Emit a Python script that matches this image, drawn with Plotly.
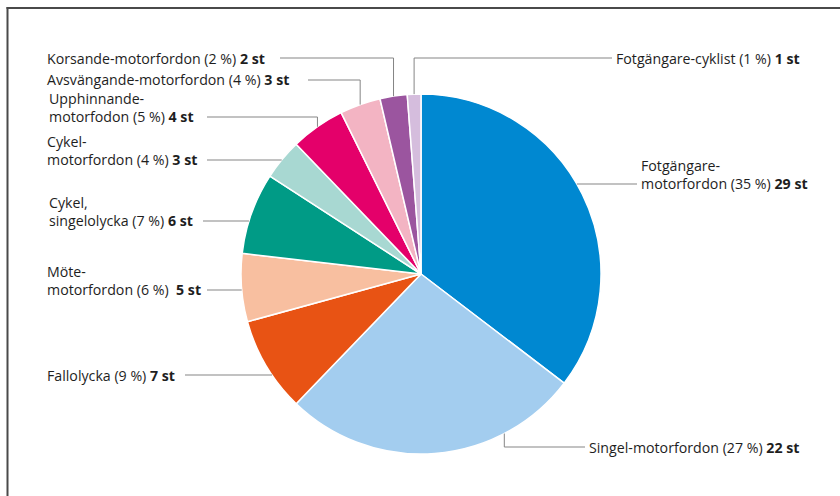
import math
import plotly.graph_objects as go

# ---- data ----
categories = [
    "Fotgängare-motorfordon", "Singel-motorfordon", "Fallolycka", "Möte-motorfordon",
    "Cykel, singelolycka", "Cykel-motorfordon", "Upphinnande-motorfodon",
    "Avsvängande-motorfordon", "Korsande-motorfordon", "Fotgängare-cyklist",
]
counts = [29, 22, 7, 5, 6, 3, 4, 3, 2, 1]
percents = [35, 27, 9, 6, 7, 4, 5, 4, 2, 1]
label_lines = [
    ["Fotgängare-", "motorfordon (35 %) <b>29 st</b>"],
    ["Singel-motorfordon (27 %) <b>22 st</b>"],
    ["Fallolycka (9 %) <b>7 st</b>"],
    ["Möte-", "motorfordon (6 %)\u00a0 <b>5 st</b>"],
    ["Cykel,", "singelolycka (7 %) <b>6 st</b>"],
    ["Cykel-", "motorfordon (4 %) <b>3 st</b>"],
    ["Upphinnande-", "motorfodon (5 %) <b>4 st</b>"],
    ["Avsvängande-motorfordon (4 %) <b>3 st</b>"],
    ["Korsande-motorfordon (2 %) <b>2 st</b>"],
    ["Fotgängare-cyklist (1 %) <b>1 st</b>"],
]
colors = ["#0088D1", "#A3CDEF", "#E85314", "#F8BFA0", "#009B86",
          "#A8D8D2", "#E4006A", "#F3B4C3", "#9B559F", "#D5BDDD"]

# ---- layout geometry (page pixels) ----
OFF = 0                      # page offset of the plot div (body margin removed)
W, H = 840, 496
CX, CY, R = 421, 274, 180
FS = 14.2
LH = 1.3 * FS
# leader style per slice: (side, type, line_y, line_x_at_text, text_x, frac_in_slice)
leaders = [
    ("right", "h", 184, 637, 639, 0.5),
    ("right", "v", 447, 585, 587, 0.26),
    ("left", "h", 375, 185, 45, 0.5),
    ("left", "h", 290, 207, 45, 0.5),
    ("left", "h", 221, 203, 47, 0.5),
    ("left", "h", 160, 207, 45, 0.5),
    ("left", "v", 117, 207, 47, 0.5),
    ("left", "v", 80, 308, 45, 0.5),
    ("left", "v", 58, 280, 45, 0.5),
    ("right", "v", 58, 612, 614, 0.5),
]


def px(x):
    return (x - OFF) / W


def py(y):
    return 1 - (y - OFF) / H


fig = go.Figure()
fig.add_trace(go.Pie(
    labels=categories, values=counts, sort=False, direction="clockwise", rotation=0,
    marker=dict(colors=colors, line=dict(color="white", width=1.5)),
    textinfo="none", hoverinfo="label+value", showlegend=False,
    domain=dict(x=[px(CX - R), px(CX + R)], y=[py(CY + R), py(CY - R)]),
))

total = sum(counts)
cum = 0
shapes = []
annotations = []
for i, v in enumerate(counts):
    side, kind, ly, lx, tx, frac = leaders[i]
    ang = math.radians((cum + v * frac) / total * 360)
    cum += v
    if kind == "v":
        ex = CX + R * math.sin(ang)
        ey = CY - R * math.cos(ang)
        pts = [(ex, ey), (ex, ly), (lx, ly)]
    else:
        dx = math.sqrt(max(R * R - (ly - CY) ** 2, 0))
        ex = CX + dx if side == "right" else CX - dx
        pts = [(ex, ly), (lx, ly)]
    path = "M " + " L ".join(f"{px(a)},{py(b)}" for a, b in pts)
    shapes.append(dict(type="path", xref="paper", yref="paper", path=path,
                       line=dict(color="#858585", width=1)))
    lines = label_lines[i]
    n = len(lines)
    yy = ly - (n - 1) * LH / 2
    annotations.append(dict(
        x=px(tx), y=py(yy), xref="paper", yref="paper", text="<br>".join(lines),
        showarrow=False, xanchor="left", yanchor="middle", align="left",
        font=dict(size=FS, color="#1e1e1e"),
    ))

# frame (top and left borders)
shapes.append(dict(type="line", xref="paper", yref="paper", x0=px(6.5), x1=1.05, y0=py(8), y1=py(8),
                   line=dict(color="#4a4a4a", width=2)))
shapes.append(dict(type="line", xref="paper", yref="paper", x0=px(7.5), x1=px(7.5), y0=py(7), y1=-0.05,
                   line=dict(color="#4a4a4a", width=2)))

fig.update_layout(
    width=W, height=H, margin=dict(l=0, r=0, t=0, b=0),
    paper_bgcolor="white", plot_bgcolor="white",
    font=dict(family="'Open Sans', sans-serif"),
    shapes=shapes, annotations=annotations,
)
fig.write_html(
    "out.html",
    config={"displayModeBar": False},
    post_script=("document.body.style.margin='0';"
                 "document.documentElement.style.overflow='hidden';"
                 "document.body.style.overflow='hidden';"),
)
